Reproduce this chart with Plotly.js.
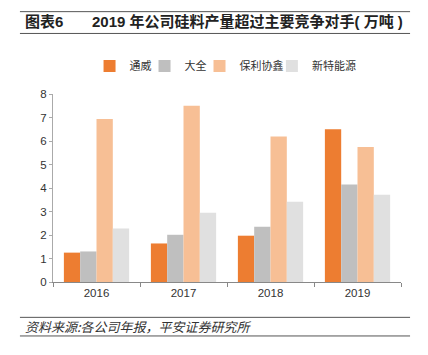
<!DOCTYPE html>
<html>
<head>
<meta charset="utf-8">
<script src="https://cdn.plot.ly/plotly-3.0.1.min.js"></script>
<style>html,body{margin:0;padding:0;background:#fff;}#chart{width:428px;height:355px;}</style>
</head>
<body>
<div id="chart"></div>
<script>
const years = ['2016', '2017', '2018', '2019'];
const seriesNames = ['通威', '大全', '保利协鑫', '新特能源'];
const tongwei = [1.25, 1.64, 1.97, 6.50];
const daqo = [1.30, 2.01, 2.35, 4.15];
const gcl = [6.94, 7.50, 6.19, 5.75];
const xinte = [2.28, 2.95, 3.41, 3.71];
const colors = ['#ED7D31', '#BFBFBF', '#F7BF95', '#E0E0E0'];
const yTicks = [0, 1, 2, 3, 4, 5, 6, 7, 8];

const values = [tongwei, daqo, gcl, xinte];
const legendIds = ['legend', 'legend2', 'legend3', 'legend4'];
const legendX = [0.105, 0.263, 0.421, 0.629];
const FONT = 'Liberation Sans, Arial, "Noto Sans CJK SC", sans-serif';
const traces = values.map((v, i) => ({
  type: 'bar', x: years, y: v, name: seriesNames[i], legend: legendIds[i],
  marker: {color: colors[i], line: {width: 0}}
}));

const layout = {
  width: 428, height: 355,
  margin: {l: 53, r: 27, t: 94, b: 73},
  paper_bgcolor: '#fff', plot_bgcolor: '#fff',
  barmode: 'group', bargap: 0.25, bargroupgap: 0,
  font: {family: FONT, size: 11, color: '#333'},
  showlegend: true,
  xaxis: {type: 'category', showline: true, linecolor: '#888', linewidth: 1,
    ticks: 'outside', tickson: 'boundaries', ticklen: 4, tickcolor: '#888',
    showgrid: false, zeroline: false, tickfont: {size: 11.5, color: '#333'}},
  yaxis: {range: [0, 8], tickvals: yTicks, showline: true, linecolor: '#aaa', linewidth: 1,
    ticks: 'outside', ticklen: 3, tickcolor: '#aaa', showgrid: false, zeroline: false,
    tickfont: {size: 11.5, color: '#333'}},
  shapes: [
    {type: 'line', xref: 'paper', yref: 'paper', x0: -0.095, x1: 1.026, y0: 1.438, y1: 1.438, line: {color: '#555', width: 1}},
    {type: 'line', xref: 'paper', yref: 'paper', x0: -0.095, x1: 1.026, y0: 1.322, y1: 1.322, line: {color: '#555', width: 1}},
    {type: 'line', xref: 'paper', yref: 'paper', x0: -0.095, x1: 1.026, y0: -0.188, y1: -0.188, line: {color: '#555', width: 1}},
    {type: 'line', xref: 'paper', yref: 'paper', x0: -0.095, x1: 1.026, y0: -0.287, y1: -0.287, line: {color: '#555', width: 1}}
  ],
  annotations: [
    {xref: 'paper', yref: 'paper', x: -0.086, y: 1.385, xanchor: 'left', yanchor: 'middle', showarrow: false,
      text: '<b>图表6</b>', font: {family: 'Liberation Sans, "Noto Sans CJK SC"', size: 15, color: '#222'}},
    {xref: 'paper', yref: 'paper', x: 0.106, y: 1.385, xanchor: 'left', yanchor: 'middle', showarrow: false,
      text: '<b>2019 年公司硅料产量超过主要竞争对手( 万吨 )</b>', font: {family: 'Liberation Sans, "Noto Sans CJK SC"', size: 15, color: '#222'}},
    {xref: 'paper', yref: 'paper', x: -0.086, y: -0.239, xanchor: 'left', yanchor: 'middle', showarrow: false,
      text: '<i>资料来源:各公司年报，平安证券研究所</i>', font: {family: '"Noto Sans CJK SC", sans-serif', size: 13, color: '#333'}}
  ]
};
legendIds.forEach((id, i) => {
  layout[id] = {orientation: 'h', x: legendX[i], xanchor: 'left', y: 1.149, yanchor: 'middle',
    font: {family: '"Noto Sans CJK SC", sans-serif', size: 11, color: '#333'},
    itemwidth: 30, bgcolor: 'rgba(0,0,0,0)', borderwidth: 0};
});

Plotly.newPlot('chart', traces, layout, {displayModeBar: false, staticPlot: true});
</script>
</body>
</html>
